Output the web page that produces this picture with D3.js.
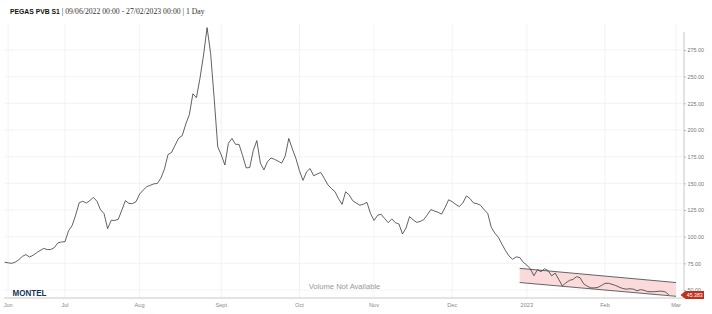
<!DOCTYPE html>
<html>
<head>
<meta charset="utf-8">
<script src="https://cdn.jsdelivr.net/npm/d3@7"></script>
<style>
  body { margin: 0; background: #fff; }
  text { font-family: "Liberation Sans", Arial, sans-serif; }
</style>
</head>
<body>
<div class="chart"></div>
<script>
// daily settlement values, one per trading day from 08/06/2022 to 27/02/2023
const values = [
  76.0, 75.5, 75.0, 76.1, 78.4, 81.5, 83.2, 80.9, 82.5, 84.9,
  87.0, 89.0, 87.9, 88.0, 89.7, 94.2, 95.0, 95.3, 105.5, 110.4,
  120.2, 131.8, 133.2, 131.5, 133.9, 136.8, 133.2, 125.3, 121.6, 107.5,
  115.3, 115.2, 116.3, 124.9, 133.8, 131.2, 131.0, 132.8, 139.9, 143.6,
  146.8, 148.2, 149.5, 149.9, 154.9, 163.5, 177.0, 179.0, 185.8, 192.4,
  194.7, 205.6, 214.3, 234.0, 230.3, 248.5, 270.3, 296.0, 271.8, 229.3,
  184.3, 176.6, 167.2, 187.5, 192.1, 186.6, 186.5, 176.0, 164.5, 164.8,
  180.8, 190.1, 169.0, 162.6, 170.3, 173.8, 172.5, 170.8, 168.9, 175.7,
  192.1, 182.3, 173.4, 161.8, 152.8, 160.8, 163.9, 157.1, 158.8, 160.2,
  154.6, 148.6, 145.2, 142.2, 135.6, 130.3, 142.1, 139.1, 133.7, 131.5,
  129.5, 130.4, 132.2, 121.7, 115.2, 120.1, 121.0, 116.9, 113.2, 116.7,
  113.1, 111.9, 102.5, 108.1, 118.8, 115.8, 113.4, 114.3, 116.0, 120.5,
  125.4, 124.0, 122.9, 121.1, 127.4, 134.6, 132.8, 130.2, 128.3, 131.6,
  138.2, 135.8, 131.6, 130.9, 129.4, 125.2, 121.9, 108.8, 103.3, 99.4,
  93.0, 86.9, 81.9, 78.8, 81.0, 80.5, 76.0, 73.4, 69.8, 63.4,
  69.0, 67.2, 69.9, 68.2, 63.3, 65.8, 59.9, 53.8, 56.7, 59.0,
  59.9, 62.5, 61.5, 55.8, 53.6, 52.0, 52.0, 52.4, 54.2, 56.2,
  56.3, 55.3, 54.2, 52.7, 51.4, 50.8, 51.2, 50.8, 49.3, 50.3,
  49.8, 48.5, 48.4, 48.4, 48.8, 48.9, 48.2, 45.383
]

const firstDay = '2022-06-08'
const lastDay = '2023-03-01'
const holidays = ['2022-12-26']

const monthTicks = ['2022-06-09', '2022-07-01', '2022-08-01', '2022-09-01', '2022-10-03',
  '2022-11-01', '2022-12-01', '2023-01-02', '2023-02-01', '2023-03-01']
const monthLabels = ['Jun', 'Jul', 'Aug', 'Sept', 'Oct', 'Nov', 'Dec', '2023', 'Feb', 'Mar']

const yTicks = [50, 75, 100, 125, 150, 175, 200, 225, 250, 275]

// drawn trend channel
const channelDays = ['2022-12-29', '2023-03-01']
const channelUpper = [70.3, 57.0]
const channelLower = [57.0, 44.1]

const lastValue = 45.383

const width = 712
const height = 314
const plot = { left: 4, right: 684, top: 24, bottom: 298 }

// trading calendar, weekends and exchange holidays left out
const fmt = d3.timeFormat('%Y-%m-%d')
const days = d3.timeDay.range(new Date(firstDay + 'T00:00'), d3.timeDay.offset(new Date(lastDay + 'T00:00'), 1))
  .filter(d => d.getDay() !== 0 && d.getDay() !== 6)
  .map(fmt)
  .filter(d => !holidays.includes(d))
const dayIndex = new Map(days.map((d, i) => [d, i]))

const x = d3.scaleLinear()
  .domain([0, days.length - 1])
  .range([4.6, 676])

const y = d3.scaleLinear()
  .domain([42.5, 299.4])
  .range([plot.bottom, plot.top])

const svg = d3.select('.chart')
  .append('svg')
  .attr('width', width)
  .attr('height', height)

// title
const title = svg.append('text')
  .attr('x', 10)
  .attr('y', 14)
  .attr('fill', '#111')
title.append('tspan')
  .attr('font-weight', 'bold')
  .attr('font-size', 6.8)
  .text('PEGAS PVB S1')
title.append('tspan')
  .attr('font-family', '"Liberation Serif", serif')
  .attr('font-size', 7.7)
  .attr('fill', '#333')
  .text(' | 09/06/2022 00:00 - 27/02/2023 00:00 | 1 Day')

// grid
svg.append('g')
  .selectAll('line')
  .data(yTicks)
  .enter()
  .append('line')
  .attr('x1', plot.left)
  .attr('x2', plot.right)
  .attr('y1', d => y(d))
  .attr('y2', d => y(d))
  .attr('stroke', '#f0f0f0')
  .attr('stroke-width', 0.8)

svg.append('g')
  .selectAll('line')
  .data(monthTicks)
  .enter()
  .append('line')
  .attr('x1', d => x(dayIndex.get(d)))
  .attr('x2', d => x(dayIndex.get(d)))
  .attr('y1', plot.top)
  .attr('y2', plot.bottom)
  .attr('stroke', '#f0f0f0')
  .attr('stroke-width', 0.8)

// axes
svg.append('line')
  .attr('x1', plot.left).attr('x2', plot.right)
  .attr('y1', plot.bottom).attr('y2', plot.bottom)
  .attr('stroke', '#c8c8c8')

svg.append('line')
  .attr('x1', plot.right).attr('x2', plot.right)
  .attr('y1', 32).attr('y2', plot.bottom)
  .attr('stroke', '#c8c8c8')

const yAxis = svg.append('g')
  .attr('transform', `translate(${plot.right},0)`)
  .call(d3.axisRight(y)
    .tickValues(yTicks)
    .tickSize(2)
    .tickPadding(1.5)
    .tickFormat(d3.format('.2f')))
yAxis.select('.domain').remove()
yAxis.selectAll('line').attr('stroke', '#bbb')
yAxis.selectAll('text')
  .attr('font-family', '"Liberation Sans", Arial, sans-serif')
  .attr('font-size', 5.4)
  .attr('fill', '#777')

svg.append('g')
  .selectAll('text')
  .data(monthTicks)
  .enter()
  .append('text')
  .attr('x', d => x(dayIndex.get(d)))
  .attr('y', 306.5)
  .attr('text-anchor', 'middle')
  .attr('font-size', 5.6)
  .attr('fill', '#888')
  .text((d, i) => monthLabels[i])

// watermark and volume notice
svg.append('text')
  .attr('x', 344.5)
  .attr('y', 288.5)
  .attr('text-anchor', 'middle')
  .attr('font-size', 7.6)
  .attr('fill', '#999')
  .text('Volume Not Available')

svg.append('text')
  .attr('x', 12.5)
  .attr('y', 296)
  .attr('font-family', '"DejaVu Sans", sans-serif')
  .attr('font-weight', 'bold')
  .attr('font-size', 8.2)
  .attr('textLength', 34)
  .attr('lengthAdjust', 'spacingAndGlyphs')
  .attr('fill', '#16355a')
  .text('MONTEL')

// channel
const cx = channelDays.map(d => x(dayIndex.get(d)))
svg.append('path')
  .attr('d', `M${cx[0]},${y(channelUpper[0])}L${cx[1]},${y(channelUpper[1])}` +
    `L${cx[1]},${y(channelLower[1])}L${cx[0]},${y(channelLower[0])}Z`)
  .attr('fill', '#f9d3d3')
  .attr('fill-opacity', 0.85)

;[channelUpper, channelLower].forEach(c => {
  svg.append('line')
    .attr('x1', cx[0]).attr('y1', y(c[0]))
    .attr('x2', cx[1]).attr('y2', y(c[1]))
    .attr('stroke', '#555')
    .attr('stroke-width', 0.9)
})

// price line
const line = d3.line()
  .x((d, i) => x(i))
  .y(d => y(d))

svg.append('path')
  .datum(values)
  .attr('d', line)
  .attr('fill', 'none')
  .attr('stroke', '#3a3a3a')
  .attr('stroke-width', 0.8)
  .attr('stroke-linejoin', 'round')

// last value callout
const ly = y(lastValue)
svg.append('path')
  .attr('d', `M${plot.right - 3.5},${ly}L${plot.right + 1.5},${ly - 4}L${plot.right + 20},${ly - 4}` +
    `L${plot.right + 20},${ly + 4}L${plot.right + 1.5},${ly + 4}Z`)
  .attr('fill', '#c0301e')

svg.append('text')
  .attr('x', plot.right + 10.8)
  .attr('y', ly + 1.9)
  .attr('text-anchor', 'middle')
  .attr('font-size', 5.2)
  .attr('fill', '#fff')
  .text(lastValue.toFixed(3))
</script>
</body>
</html>
